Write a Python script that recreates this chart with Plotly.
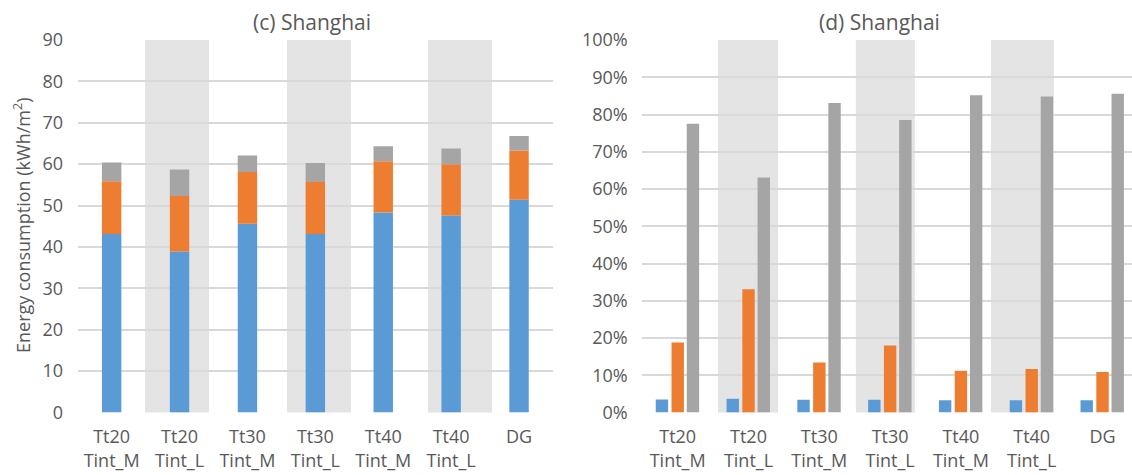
import numpy as np
import plotly.graph_objects as go

# Cases on the x axis
categories = ["Tt20<br>Tint_M", "Tt20<br>Tint_L", "Tt30<br>Tint_M", "Tt30<br>Tint_L",
              "Tt40<br>Tint_M", "Tt40<br>Tint_L", "DG"]

# (c) stacked energy consumption components, kWh/m2
energy_blue = [43.1, 38.9, 45.6, 43.1, 48.3, 47.6, 51.4]
energy_orange = [12.8, 13.4, 12.5, 12.6, 12.4, 12.4, 11.9]
energy_gray = [4.5, 6.4, 4.0, 4.6, 3.6, 3.8, 3.5]

# (d) percentage values
pct_blue = [3.5, 3.7, 3.4, 3.4, 3.3, 3.3, 3.3]
pct_orange = [18.8, 33.1, 13.4, 18.0, 11.2, 11.7, 10.9]
pct_gray = [77.5, 63.1, 83.1, 78.5, 85.2, 84.8, 85.6]

BLUE = "#5B9BD5"
ORANGE = "#ED7D31"
GRAY = "#A5A5A5"
BAND = "#E4E4E4"
GRID = "#D9D9D9"
TXT = "#595959"
FONT = "Open Sans"

W, H = 1132, 475
x = list(range(len(categories)))

fig = go.Figure()

# ---- left panel: stacked bars built from cumulative bases
base_orange = np.array(energy_blue)
base_gray = base_orange + np.array(energy_orange)
for vals, base, col in [(energy_blue, None, BLUE),
                        (energy_orange, base_orange, ORANGE),
                        (energy_gray, base_gray, GRAY)]:
    fig.add_trace(go.Bar(x=x, y=vals, base=base, marker_color=col,
                         marker_line_width=0, width=0.286, offset=-0.143,
                         xaxis="x", yaxis="y", showlegend=False))

# ---- right panel: grouped bars
for vals, off, col in [(pct_blue, -0.31, BLUE), (pct_orange, -0.087, ORANGE),
                       (pct_gray, 0.128, GRAY)]:
    fig.add_trace(go.Bar(x=x, y=vals, marker_color=col, marker_line_width=0,
                         width=0.175, offset=off, xaxis="x2", yaxis="y2",
                         showlegend=False))

# shaded bands behind the Tint_L cases
shapes = []
for x0, x1 in [(0.491, 1.434), (2.582, 3.525), (4.659, 5.602)]:
    shapes.append(dict(type="rect", xref="x", yref="y domain", x0=x0, x1=x1, y0=0, y1=1,
                       fillcolor=BAND, line_width=0, layer="below"))
for x0, x1 in [(0.569, 1.417), (2.517, 3.350), (4.424, 5.314)]:
    shapes.append(dict(type="rect", xref="x2", yref="y2 domain", x0=x0, x1=x1, y0=0, y1=1,
                       fillcolor=BAND, line_width=0, layer="below"))

top, bottom = 40, 412.5
ydom = [1 - bottom / H, 1 - top / H]

xaxis_common = dict(tickmode="array", tickvals=x, ticktext=categories, showgrid=False,
                    ticks="outside", ticklen=8, tickcolor="rgba(0,0,0,0)",
                    showline=False, zeroline=False, automargin=False,
                    tickfont=dict(family=FONT, size=18, color=TXT), fixedrange=True)
yaxis_common = dict(showgrid=True, gridcolor=GRID, gridwidth=1.5, zeroline=False,
                    showline=False, ticks="outside", ticklen=10,
                    tickcolor="rgba(0,0,0,0)", layer="below traces", automargin=False,
                    tickfont=dict(family=FONT, size=18, color=TXT))

fig.update_layout(
    width=W, height=H,
    margin=dict(l=0, r=0, t=0, b=0),
    paper_bgcolor="white", plot_bgcolor="rgba(0,0,0,0)",
    barmode="overlay",
    shapes=shapes,
    xaxis=dict(domain=[77.7 / W, 553 / W], range=[-0.5, 6.5], anchor="y", **xaxis_common),
    yaxis=dict(domain=ydom, range=[0, 90], dtick=10, anchor="x", **yaxis_common),
    xaxis2=dict(domain=[642.3 / W, 1.0], range=[-0.5, 6.417], anchor="y2", **xaxis_common),
    yaxis2=dict(domain=ydom, range=[0, 100], dtick=10, ticksuffix="%", anchor="x2",
                **yaxis_common),
    annotations=[
        dict(text="(c) Shanghai", x=312 / W, y=1 - 22 / H, xref="paper", yref="paper",
             showarrow=False, font=dict(family=FONT, size=21, color=TXT),
             xanchor="center", yanchor="middle"),
        dict(text="(d) Shanghai", x=879 / W, y=1 - 22 / H, xref="paper", yref="paper",
             showarrow=False, font=dict(family=FONT, size=21, color=TXT),
             xanchor="center", yanchor="middle"),
        dict(text="Energy consumption (kWh/m<sup>2</sup>)", x=22 / W, y=1 - 226 / H,
             xref="paper", yref="paper", showarrow=False, textangle=-90,
             font=dict(family=FONT, size=18, color=TXT),
             xanchor="center", yanchor="middle"),
    ],
)

fig.write_html("out.html")
